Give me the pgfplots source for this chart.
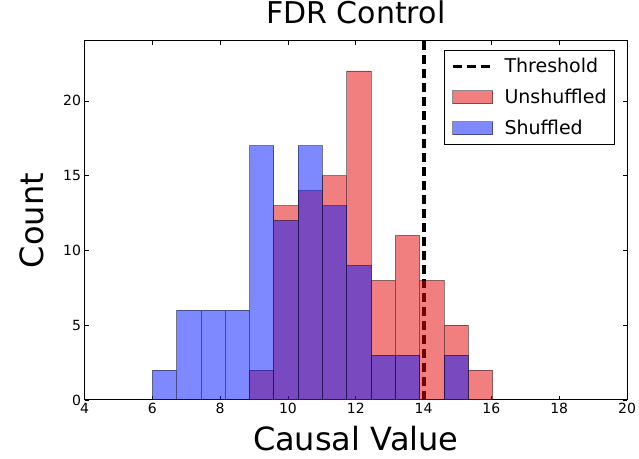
\documentclass[border=0pt]{standalone}
\usepackage{pgfplots}
\pgfplotsset{compat=1.18}
\usepackage{fontspec}
\setmainfont{DejaVu Sans}
\definecolor{histred}{RGB}{228,0,0}
\definecolor{histblue}{RGB}{0,20,255}
\pgfplotsset{
 linelegend/.style={legend image code/.code={\draw[#1] (0pt,0pt) -- (40pt,0pt);}},
 boxlegend/.style={legend image code/.code={\draw[#1] (0pt,-6.5pt) rectangle (40pt,6.5pt);}},
}
\pgfplotstableread{
x y
6.000 0
6.717 0
7.434 0
8.151 0
8.868 2
9.585 13
10.302 14
11.019 15
11.736 22
12.453 8
13.170 11
13.887 8
14.604 5
15.321 2
16.038 0
}\unshuffled
\pgfplotstableread{
x y
6.000 2
6.717 6
7.434 6
8.151 6
8.868 17
9.585 12
10.302 17
11.019 13
11.736 9
12.453 3
13.170 3
13.887 0
14.604 3
15.321 0
16.038 0
}\shuffled
\begin{document}
\begin{tikzpicture}
\begin{axis}[
 scale only axis, width=542.5pt, height=359pt,
 xmin=4, xmax=20, ymin=0, ymax=24,
 xtick={4,6,...,20}, ytick={0,5,...,20},
 tick align=inside, major tick length=4pt,
 tick style={black, line width=0.6pt},
 ticklabel style={font=\fontsize{14}{16}\selectfont},
 /pgf/number format/assume math mode=true,
 axis line style={line width=1pt},
 title={FDR Control},
 title style={font=\fontsize{30}{34}\selectfont, at={(axis description cs:0.5,1)}, anchor=base, yshift=11pt},
 xlabel={Causal Value},
 x label style={font=\fontsize{32}{36}\selectfont, at={(axis description cs:0.5,0)}, anchor=base, yshift=-51pt},
 ylabel={Count},
 y label style={font=\fontsize{32}{36}\selectfont, at={([xshift=-41pt]axis description cs:0,0.5)}, anchor=base, rotate=0},
 legend style={at={(0.978,0.975)}, anchor=north east, font=\fontsize{19}{23}\selectfont,
   draw=black, line width=1pt, row sep=11pt, inner xsep=6pt, inner ysep=6pt,
   nodes={inner sep=2pt}, /tikz/every odd column/.append style={column sep=8pt}},
 legend cell align=left,
]
\addplot[black, line width=3.8pt, dash pattern=on 9pt off 5pt, linelegend]
  coordinates {(14.02,0) (14.02,24)};
\addlegendentry{Threshold}
\addplot[ybar interval, fill=histred, fill opacity=0.5, draw=black, draw opacity=0.45, line width=0.8pt, boxlegend]
  table {\unshuffled};
\addlegendentry{Unshuffled}
\addplot[ybar interval, fill=histblue, fill opacity=0.5, draw=black, draw opacity=0.45, line width=0.8pt, boxlegend]
  table {\shuffled};
\addlegendentry{Shuffled}
\end{axis}
\pgfresetboundingbox
\path ([shift={(-84.5pt,-59pt)}]current axis.south west) rectangle ([shift={(12pt,41pt)}]current axis.north east);
\end{tikzpicture}
\end{document}
